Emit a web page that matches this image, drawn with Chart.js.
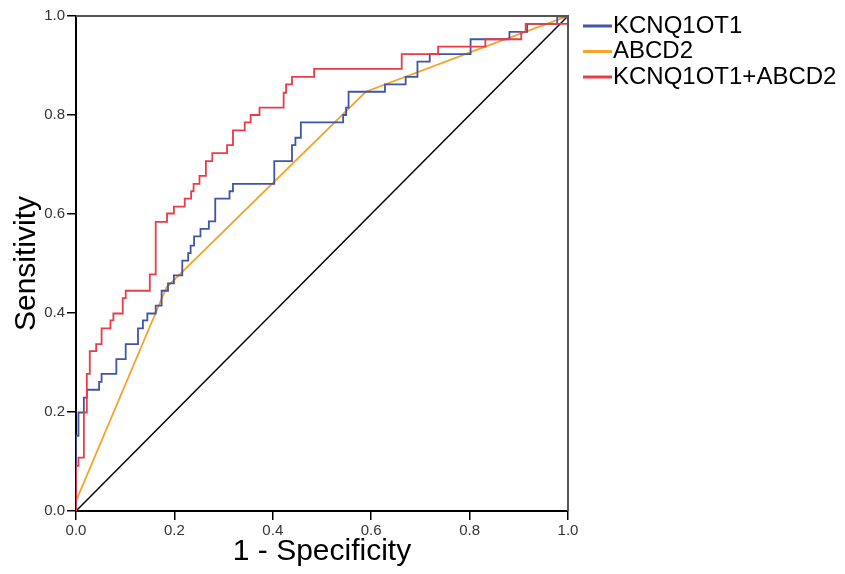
<!DOCTYPE html>
<html>
<head>
<meta charset="utf-8">
<script src="https://cdn.jsdelivr.net/npm/chart.js@4.4.1/dist/chart.umd.min.js"></script>
<style>
html, body { margin: 0; padding: 0; background: #fff; }
#wrap { width: 845px; height: 574px; }
</style>
</head>
<body>
<div id="wrap"><canvas id="rocChart" width="845" height="574"></canvas></div>
<script>
// ROC points (1 - specificity, sensitivity)
var kcnqFpr = [0, 0, 0.005, 0.016, 0.022, 0.047, 0.052, 0.082, 0.101, 0.126, 0.136, 0.145, 0.162, 0.174, 0.187, 0.199, 0.216, 0.228, 0.233, 0.240, 0.253, 0.270, 0.283, 0.312, 0.319, 0.403, 0.439, 0.446, 0.457, 0.543, 0.549, 0.554, 0.628, 0.670, 0.694, 0.719, 0.802, 0.881, 0.917, 0.978, 1.0];
var kcnqTpr = [0, 0.152, 0.199, 0.229, 0.245, 0.261, 0.277, 0.307, 0.337, 0.369, 0.385, 0.399, 0.415, 0.445, 0.460, 0.476, 0.506, 0.521, 0.536, 0.555, 0.570, 0.585, 0.631, 0.646, 0.661, 0.707, 0.739, 0.754, 0.785, 0.800, 0.815, 0.847, 0.862, 0.877, 0.908, 0.923, 0.953, 0.968, 0.984, 0.999, 1.0];

var abcdFpr = [0, 0, 0.184, 0.589, 0.832, 1.0];
var abcdTpr = [0, 0.02, 0.452, 0.847, 0.938, 1.0];

var comboFpr = [0, 0, 0.005, 0.016, 0.022, 0.028, 0.041, 0.052, 0.070, 0.076, 0.095, 0.101, 0.150, 0.162, 0.185, 0.199, 0.221, 0.234, 0.239, 0.251, 0.264, 0.277, 0.307, 0.319, 0.343, 0.355, 0.373, 0.422, 0.427, 0.439, 0.484, 0.662, 0.736, 0.832, 0.905, 0.914, 1.0];
var comboTpr = [0, 0.091, 0.108, 0.199, 0.277, 0.323, 0.337, 0.369, 0.385, 0.399, 0.430, 0.445, 0.478, 0.584, 0.601, 0.615, 0.631, 0.646, 0.661, 0.677, 0.707, 0.723, 0.739, 0.769, 0.785, 0.800, 0.815, 0.845, 0.862, 0.877, 0.893, 0.923, 0.938, 0.953, 0.968, 0.984, 1.0];

var refFpr = [0, 1];
var refTpr = [0, 1];

var seriesNames = ['KCNQ1OT1', 'ABCD2', 'KCNQ1OT1+ABCD2'];
var tickValues = [0, 0.2, 0.4, 0.6, 0.8, 1.0];

var FONT = "'Liberation Sans', Arial, sans-serif";

function toPoints(xs, ys) {
    return xs.map(function(x, i) { return { x: x, y: ys[i] }; });
}

// top and right edges of the plot box
var framePlugin = {
    id: 'frame',
    afterDatasetsDraw: function(chart) {
        var a = chart.chartArea, ctx = chart.ctx;
        ctx.save();
        ctx.strokeStyle = '#555';
        ctx.lineWidth = 2;
        ctx.beginPath();
        ctx.moveTo(a.left, a.top);
        ctx.lineTo(a.right, a.top);
        ctx.lineTo(a.right, a.bottom);
        ctx.stroke();
        ctx.restore();
    }
};

// legend: short line + name, no gap, like SPSS output
var legendPlugin = {
    id: 'sideLegend',
    afterDraw: function(chart) {
        var a = chart.chartArea, ctx = chart.ctx;
        var x0 = a.right + 15;
        ctx.save();
        ctx.font = '24px ' + FONT;
        ctx.textBaseline = 'middle';
        chart.data.datasets.forEach(function(ds) {
            var row = seriesNames.indexOf(ds.label);
            if (row < 0) return;
            var y = 26 + row * 25.5;
            ctx.strokeStyle = ds.borderColor;
            ctx.lineWidth = 3;
            ctx.beginPath();
            ctx.moveTo(x0, y);
            ctx.lineTo(x0 + 29, y);
            ctx.stroke();
            ctx.fillStyle = '#000';
            ctx.fillText(ds.label, x0 + 30, y);
        });
        ctx.restore();
    }
};

var ctx = document.getElementById('rocChart').getContext('2d');
var rocChart = new Chart(ctx, {
    type: 'line',
    data: {
        datasets: [{
            label: 'KCNQ1OT1+ABCD2',
            data: toPoints(comboFpr, comboTpr),
            borderColor: '#ec3a47',
            borderWidth: 1.8,
            stepped: 'before',
            pointRadius: 0,
            fill: false,
            order: 1
        }, {
            label: 'KCNQ1OT1',
            data: toPoints(kcnqFpr, kcnqTpr),
            borderColor: '#3f55a8',
            borderWidth: 1.8,
            stepped: 'before',
            pointRadius: 0,
            fill: false,
            order: 2
        }, {
            label: 'ABCD2',
            data: toPoints(abcdFpr, abcdTpr),
            borderColor: '#f5a428',
            borderWidth: 1.8,
            pointRadius: 0,
            fill: false,
            order: 3
        }, {
            label: 'Reference',
            data: toPoints(refFpr, refTpr),
            borderColor: '#000',
            borderWidth: 1.5,
            pointRadius: 0,
            fill: false,
            order: 4
        }]
    },
    options: {
        responsive: false,
        animation: false,
        layout: { padding: { top: 16, right: 277, left: 0, bottom: 0 } },
        plugins: {
            legend: { display: false },
            tooltip: { enabled: false }
        },
        scales: {
            x: {
                type: 'linear',
                min: 0,
                max: 1,
                afterBuildTicks: function(axis) { axis.ticks = tickValues.map(function(v) { return { value: v }; }); },
                afterFit: function(axis) { axis.height = 63; },
                ticks: {
                    callback: function(v) { return v.toFixed(1); },
                    font: { family: FONT, size: 15 },
                    color: '#333',
                    padding: 2,
                    maxRotation: 0
                },
                grid: { drawOnChartArea: false, drawTicks: true, tickLength: 9, color: '#000', lineWidth: 1.5 },
                border: { display: true, color: '#000', width: 2 },
                title: {
                    display: true,
                    text: '1 - Specificity',
                    font: { family: FONT, size: 30 },
                    color: '#000',
                    padding: { top: 0, bottom: 4 }
                }
            },
            y: {
                type: 'linear',
                min: 0,
                max: 1,
                afterBuildTicks: function(axis) { axis.ticks = tickValues.map(function(v) { return { value: v }; }); },
                afterFit: function(axis) { axis.width = 76; },
                ticks: {
                    callback: function(v) { return v.toFixed(1); },
                    font: { family: FONT, size: 15 },
                    color: '#333',
                    padding: 2
                },
                grid: { drawOnChartArea: false, drawTicks: true, tickLength: 9, color: '#000', lineWidth: 1.5 },
                border: { display: true, color: '#000', width: 2 },
                title: {
                    display: true,
                    text: 'Sensitivity',
                    font: { family: FONT, size: 30 },
                    color: '#000',
                    padding: { top: 9, bottom: 0 }
                }
            }
        }
    },
    plugins: [framePlugin, legendPlugin]
});
</script>
</body>
</html>
